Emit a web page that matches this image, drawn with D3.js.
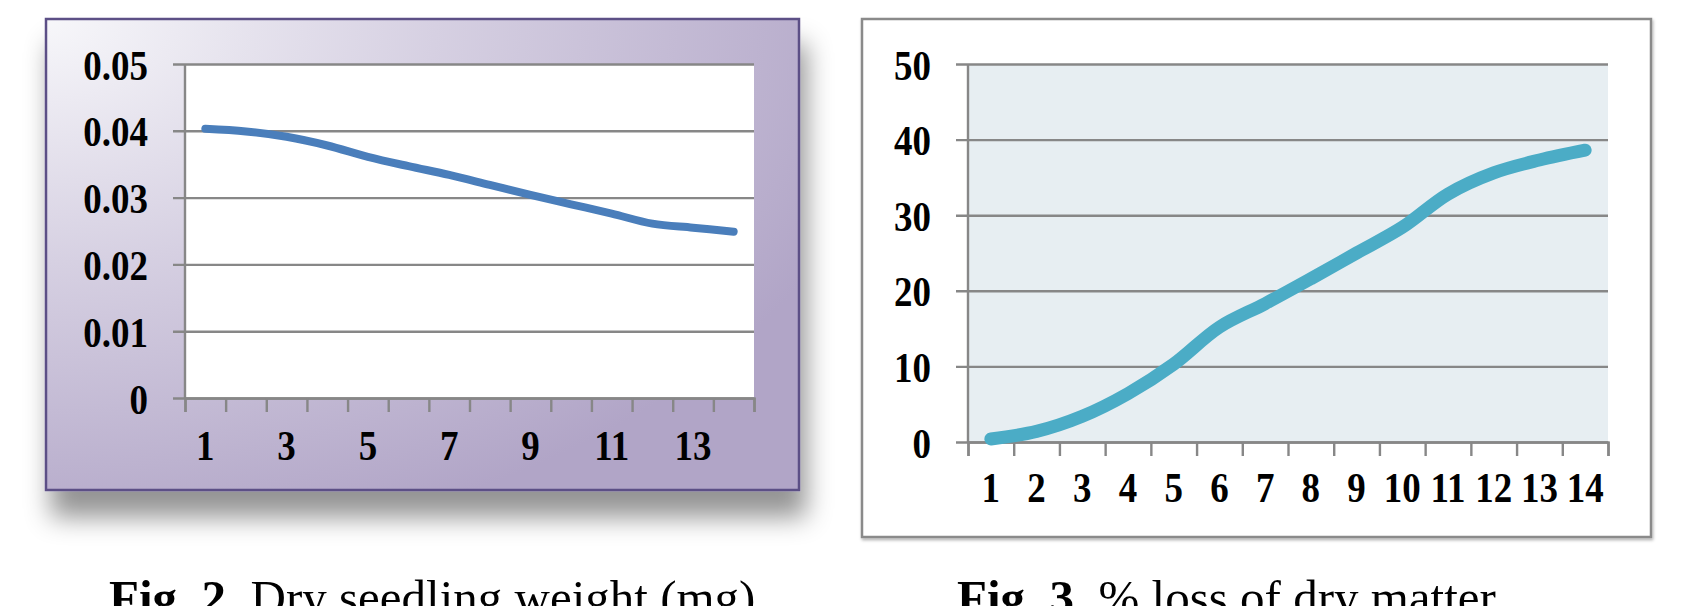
<!DOCTYPE html>
<html>
<head>
<meta charset="utf-8">
<script src="https://cdn.jsdelivr.net/npm/d3@7"></script>
<style>
  html, body { margin: 0; padding: 0; background: #fff; overflow: hidden; }
  text { font-family: "Liberation Serif", "Times New Roman", serif; }
</style>
</head>
<body>
<svg id="fig" width="1707" height="606"></svg>
<script>
// x categories (days) shared by both charts
var days = [1, 2, 3, 4, 5, 6, 7, 8, 9, 10, 11, 12, 13, 14];

// Fig. 2 - dry seedling weight (mg)
var seedlingWeight = [0.0403, 0.0399, 0.0391, 0.0378, 0.0361, 0.0347, 0.0334,
                      0.0319, 0.0304, 0.0290, 0.0276, 0.0261, 0.0255, 0.0249];
var weightTicks = [0, 0.01, 0.02, 0.03, 0.04, 0.05];
var weightLabels = ['0', '0.01', '0.02', '0.03', '0.04', '0.05'];
var weightDayLabels = [1, 3, 5, 7, 9, 11, 13];

// Fig. 3 - % loss of dry matter
var dryMatterLoss = [0.4, 1.4, 3.4, 6.4, 10.3, 15.2, 18.3,
                     21.6, 25.0, 28.4, 32.8, 35.6, 37.3, 38.6];
var lossTicks = [0, 10, 20, 30, 40, 50];
var lossLabels = ['0', '10', '20', '30', '40', '50'];
var lossDayLabels = days;

var captions = [
  { bold: 'Fig. 2.', rest: ' Dry seedling weight (mg)', x: 109 },
  { bold: 'Fig. 3.', rest: ' % loss of dry matter', x: 957 }
];

// tick labels in the source look like a squeezed Times bold
var squeeze = 0.86;

var svg = d3.select('#fig');
var defs = svg.append('defs');

// purple gradient behind the left chart
var grad = defs.append('radialGradient')
  .attr('id', 'purple')
  .attr('cx', 0).attr('cy', 0).attr('r', 1.15)
  .attr('fx', 0).attr('fy', 0);
grad.append('stop').attr('offset', '0%').attr('stop-color', '#f7f7fa');
grad.append('stop').attr('offset', '45%').attr('stop-color', '#d6d0e2');
grad.append('stop').attr('offset', '100%').attr('stop-color', '#b1a5c7');

// big soft shadow under the left box
defs.append('filter')
  .attr('id', 'bigShadow')
  .attr('x', '-10%').attr('y', '-10%').attr('width', '125%').attr('height', '135%')
  .append('feDropShadow')
  .attr('dx', 6).attr('dy', 26)
  .attr('stdDeviation', 13)
  .attr('flood-color', '#000')
  .attr('flood-opacity', 0.42);

// small shadow under the right box
defs.append('filter')
  .attr('id', 'smallShadow')
  .append('feDropShadow')
  .attr('dx', 1).attr('dy', 2)
  .attr('stdDeviation', 1.5)
  .attr('flood-color', '#000')
  .attr('flood-opacity', 0.3);

/**
 * Draws one boxed line chart.
 */
function drawChart(o) {
  var g = svg.append('g');

  // frame
  g.append('rect')
    .attr('x', o.box.x).attr('y', o.box.y)
    .attr('width', o.box.w).attr('height', o.box.h)
    .attr('fill', o.boxFill)
    .attr('stroke', o.boxStroke)
    .attr('stroke-width', 2.5)
    .attr('filter', o.shadow);

  var x = d3.scaleLinear()
    .domain([0.5, days.length + 0.5])
    .range([o.plot.x, o.plot.x + o.plot.w]);

  var y = d3.scaleLinear()
    .domain([o.yTicks[0], o.yTicks[o.yTicks.length - 1]])
    .range([o.plot.y + o.plot.h, o.plot.y]);

  // plot area fill
  g.append('rect')
    .attr('x', o.plot.x).attr('y', o.plot.y)
    .attr('width', o.plot.w).attr('height', o.plot.h)
    .attr('fill', o.plotFill);

  // horizontal grid lines, sticking out to the left as ticks
  var yAxis = d3.axisLeft(y)
    .tickValues(o.yTicks)
    .tickSize(0)
    .tickFormat(function(d, i) { return o.yLabels[i]; });

  var ya = g.append('g')
    .attr('transform', 'translate(' + (o.plot.x - 12) + ',0)')
    .call(yAxis);
  ya.select('.domain').remove();
  ya.selectAll('.tick').append('line')
    .attr('x1', 0)
    .attr('x2', o.plot.w + 12)
    .attr('stroke', '#878787')
    .attr('stroke-width', 2.4);
  ya.selectAll('text')
    .attr('x', -25 / squeeze)
    .attr('dy', '0.35em')
    .attr('transform', 'scale(' + squeeze + ',1)')
    .attr('fill', '#000')
    .style('font-size', o.fontSize + 'px')
    .style('font-weight', 'bold');

  // vertical axis line
  g.append('line')
    .attr('x1', o.plot.x).attr('x2', o.plot.x)
    .attr('y1', o.plot.y).attr('y2', o.plot.y + o.plot.h)
    .attr('stroke', '#878787')
    .attr('stroke-width', 2.4);

  // category boundary ticks below the axis
  var bounds = [0.5].concat(days.map(function(d) { return d + 0.5; }));
  var xa = g.append('g')
    .attr('transform', 'translate(0,' + (o.plot.y + o.plot.h) + ')')
    .call(d3.axisBottom(x).tickValues(bounds).tickSize(14).tickFormat(''));
  xa.selectAll('line, path')
    .attr('stroke', '#878787')
    .attr('stroke-width', 2.4);

  // category labels
  g.selectAll('text.xl')
    .data(o.xLabels)
    .enter().append('text')
    .attr('class', 'xl')
    .attr('transform', function(d) {
      return 'translate(' + x(d) + ',' + (o.plot.y + o.plot.h + o.labelGap) +
        ') scale(' + squeeze + ',1)';
    })
    .attr('text-anchor', 'middle')
    .style('font-size', o.fontSize + 'px')
    .style('font-weight', 'bold')
    .text(function(d) { return d; });

  // the series
  var line = d3.line()
    .x(function(d, i) { return x(days[i]); })
    .y(function(d) { return y(d); })
    .curve(d3.curveCatmullRom.alpha(0.5));

  g.append('path')
    .datum(o.values)
    .attr('d', line)
    .attr('fill', 'none')
    .attr('stroke', o.lineColor)
    .attr('stroke-width', o.lineWidth)
    .attr('stroke-linecap', 'round')
    .attr('stroke-linejoin', 'round');
}

drawChart({
  box: { x: 46, y: 19, w: 753, h: 471 },
  plot: { x: 185, y: 64, w: 569, h: 334 },
  boxFill: 'url(#purple)',
  boxStroke: '#5b4f86',
  shadow: 'url(#bigShadow)',
  plotFill: '#ffffff',
  yTicks: weightTicks,
  yLabels: weightLabels,
  xLabels: weightDayLabels,
  values: seedlingWeight,
  lineColor: '#4a7ebb',
  lineWidth: 8,
  fontSize: 43,
  labelGap: 62
});

drawChart({
  box: { x: 862, y: 19, w: 789, h: 518 },
  plot: { x: 968, y: 64, w: 640, h: 378 },
  boxFill: '#ffffff',
  boxStroke: '#8a8a8a',
  shadow: 'url(#smallShadow)',
  plotFill: '#e7eef2',
  yTicks: lossTicks,
  yLabels: lossLabels,
  xLabels: lossDayLabels,
  values: dryMatterLoss,
  lineColor: '#4bacc6',
  lineWidth: 13,
  fontSize: 43,
  labelGap: 60
});

// figure captions, cut by the bottom edge as in the source
captions.forEach(function(c) {
  var t = svg.append('text')
    .attr('x', c.x)
    .attr('y', 614)
    .style('font-size', '49px')
    .attr('fill', '#000');
  t.append('tspan').style('font-weight', 'bold').text(c.bold);
  t.append('tspan').text(c.rest);
});
</script>
</body>
</html>
